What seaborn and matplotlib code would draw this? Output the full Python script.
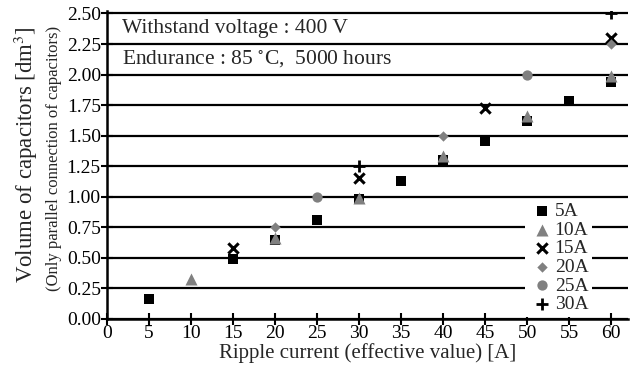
import pandas as pd
import matplotlib.pyplot as plt
import seaborn as sns

# Ripple current [A] and volume [dm^3] for each capacitor rating
x_5a = [5, 15, 20, 25, 30, 35, 40, 45, 50, 55, 60]
y_5a = [0.16, 0.49, 0.65, 0.81, 0.98, 1.13, 1.30, 1.46, 1.62, 1.78, 1.94]
x_10a = [10, 20, 30, 40, 50, 60]
y_10a = [0.33, 0.66, 0.99, 1.33, 1.66, 1.99]
x_15a = [15, 30, 45, 60]
y_15a = [0.58, 1.15, 1.73, 2.30]
x_20a = [20, 40, 60]
y_20a = [0.75, 1.50, 2.25]
x_25a = [25, 50]
y_25a = [1.00, 2.00]
x_30a = [30, 60]
y_30a = [1.25, 2.50]

series_labels = ["5A", "10A", "15A", "20A", "25A", "30A"]
x_ticks = list(range(0, 65, 5))
y_ticks = [0.00, 0.25, 0.50, 0.75, 1.00, 1.25, 1.50, 1.75, 2.00, 2.25, 2.50]

frames = []
for lab, xs, ys in zip(series_labels,
                       [x_5a, x_10a, x_15a, x_20a, x_25a, x_30a],
                       [y_5a, y_10a, y_15a, y_20a, y_25a, y_30a]):
    frames.append(pd.DataFrame({"current": xs, "volume": ys, "rating": lab}))
df = pd.concat(frames, ignore_index=True)

sns.set_style("ticks")
plt.rcParams["font.family"] = ["Liberation Serif", "DejaVu Serif"]
plt.rcParams["mathtext.fontset"] = "stix"

fig = plt.figure(figsize=(6.37, 3.67), dpi=100)
ax = fig.add_axes([0.168, 0.131, 0.818, 0.839])

styles = {
    "5A": dict(marker="s", color="black", s=55, linewidth=0),
    "10A": dict(marker="^", color="#808080", s=75, linewidth=0),
    "15A": dict(marker="x", color="black", s=55, linewidth=2.2),
    "20A": dict(marker="D", color="#808080", s=28, linewidth=0),
    "25A": dict(marker="o", color="#808080", s=55, linewidth=0),
    "30A": dict(marker="+", color="black", s=70, linewidth=2.0),
}

for lab in series_labels:
    sub = df[df["rating"] == lab]
    sns.scatterplot(data=sub, x="current", y="volume", ax=ax, label=lab,
                    zorder=3, **styles[lab])

for yv in y_ticks:
    ax.axhline(yv, color="black", linewidth=1.6, zorder=1)

ax.set_xlim(0, 62)
ax.set_ylim(0, 2.52)
ax.set_xticks(x_ticks)
ax.set_yticks(y_ticks)
ax.set_yticklabels([f"{v:.2f}" for v in y_ticks])
ax.tick_params(direction="inout", length=9, width=1.5, labelsize=14, pad=0,
               colors="black")
sns.despine(ax=ax)
for sp in ["left", "bottom"]:
    ax.spines[sp].set_linewidth(1.8)
    ax.spines[sp].set_color("black")

ax.set_xlabel("Ripple current (effective value) [A]", fontsize=15, labelpad=0.5)
ax.set_ylabel("")
fig.text(0.040, 0.578, "Volume of capacitors [dm$^3$]", rotation=90,
         fontsize=16.5, ha="center", va="center")
fig.text(0.085, 0.567, "(Only parallel connection of capacitors)", rotation=90,
         fontsize=12, ha="center", va="center")

ax.text(1.8, 2.375, "Withstand voltage : 400 V", fontsize=15.5, va="center",
        zorder=4)
ax.text(1.8, 2.125, "Endurance : 85 $^{\\circ}$C,  5000 hours", fontsize=15.5,
        va="center", zorder=4)

leg = ax.legend(loc="lower right", bbox_to_anchor=(0.935, 0.0), fontsize=14,
                frameon=True, framealpha=1, edgecolor="none", fancybox=False,
                handletextpad=0.0, labelspacing=0.05, borderpad=0.2,
                handlelength=1.3, borderaxespad=0.1)
leg.set_zorder(5)

fig.savefig("out.png", dpi=100)
